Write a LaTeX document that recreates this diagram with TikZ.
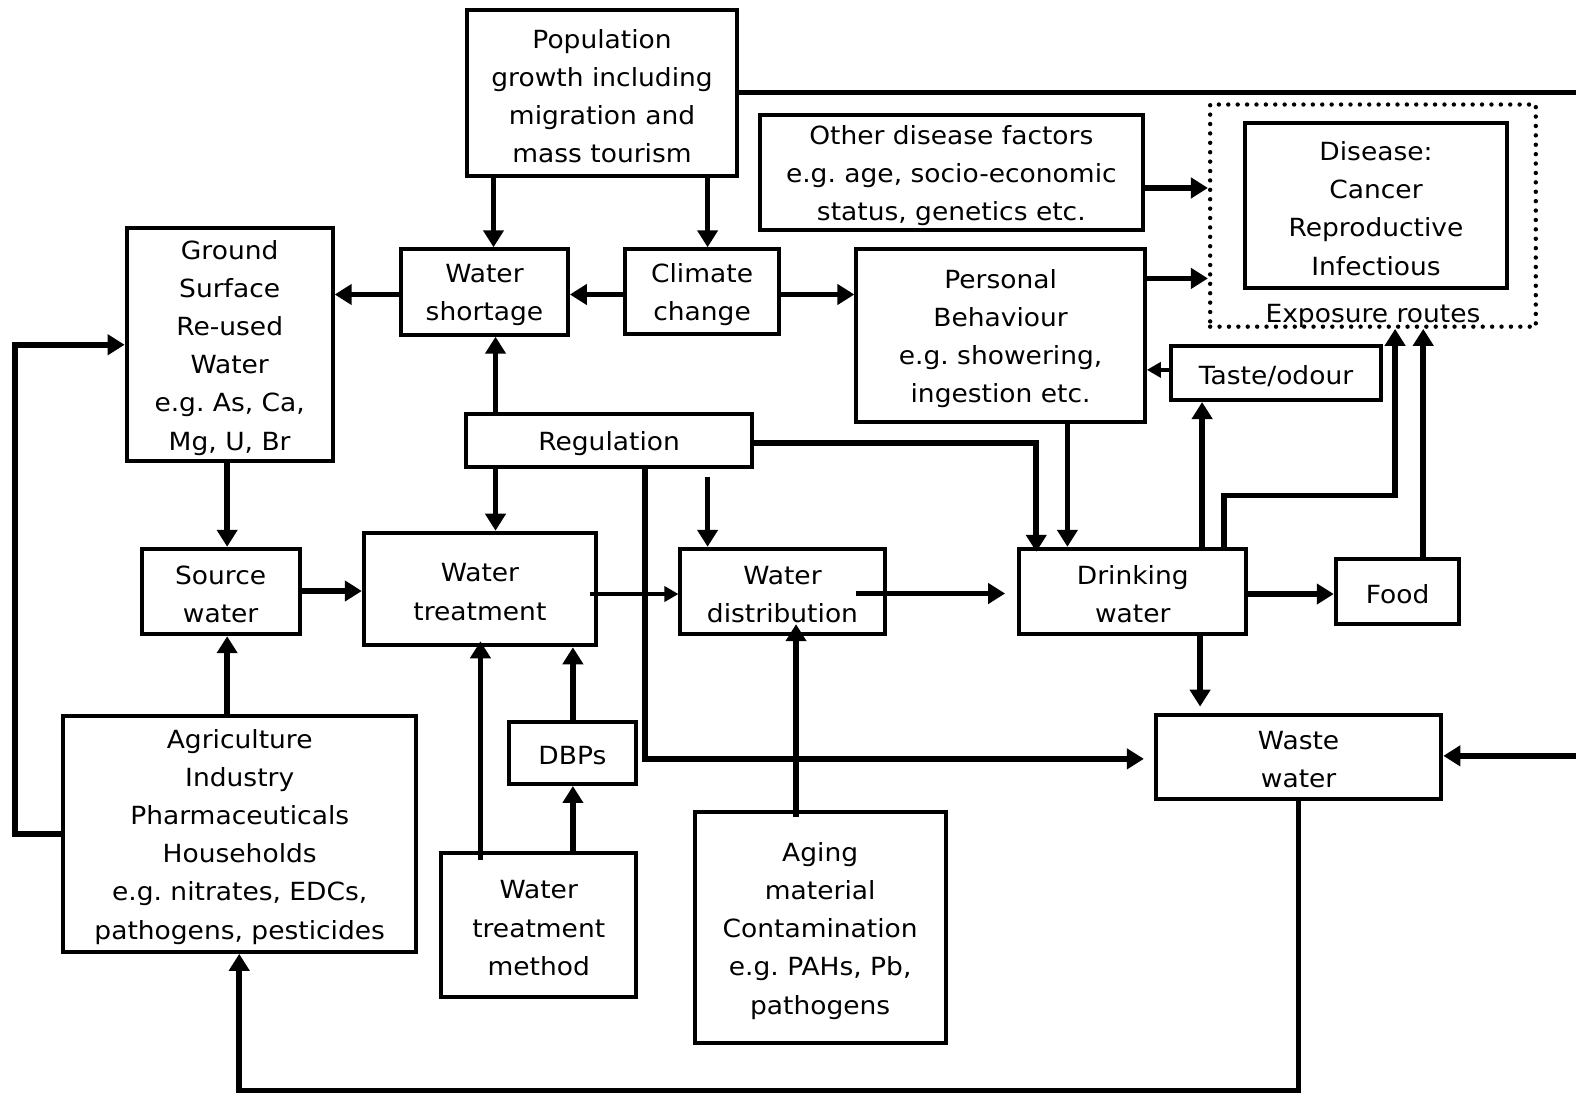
\documentclass[tikz,border=0pt]{standalone}
\usepackage{fontspec}
\setmainfont{DejaVu Sans}[FakeStretch=1.06]
\frenchspacing
\usetikzlibrary{arrows.meta,calc}
% one drawing unit
\def\pxu{0.5026pt}
% \bx{name}{x1}{y1}{x2}{y2}{text}: a framed box spanning the given corners,
% its text set a little below the geometric centre
\newcommand\bx[6]{%
  \node[box,minimum width={(#4-#2)*\pxu},minimum height={(#5-#3)*\pxu}] (#1) at ({(#2+#4)/2},{(#3+#5)/2}) {};
  \node[txt,align=center,inner sep=0pt] (#1-t) at ($(#1.center)+(0,3)$) {#6};}
\begin{document}
\begin{tikzpicture}[x=\pxu,y=-\pxu,
  txt/.style={font=\fontsize{12.5}{19.1}\selectfont},
  box/.style={draw,line width=2pt,inner sep=0pt},
  dotbox/.style={draw,line width=2.2pt,line cap=round,dash pattern=on 0pt off 4.7pt,inner sep=0pt},
  conn/.style={line width=2.8pt,-{Triangle[length=8.5pt,width=10pt]}},
  thinconn/.style={line width=1.7pt,-{Triangle[length=7pt,width=7.5pt]}},
  wire/.style={line width=2.8pt},
]
\useasboundingbox (0,0) rectangle (1568,1088);

% boxes
\bx{pop}{465}{10}{733}{175}{Population\\growth including\\migration and\\mass tourism}
\bx{odf}{756}{114}{1137}{229}{Other disease factors\\e.g. age, socio-economic\\status, genetics etc.}
\node[dotbox,minimum width={324*\pxu},minimum height={221*\pxu}] (expo) at (1366,214.5) {};
\bx{dis}{1239}{122}{1499}{287}{Disease:\\Cancer\\Reproductive\\Infectious}
\node[txt,inner sep=0pt] (exptxt) at (1366,314) {Exposure routes};
\bx{gsw}{126}{227}{331}{459}{Ground\\Surface\\Re-used\\Water\\e.g. As, Ca,\\Mg, U, Br}
\bx{ws}{399}{248}{565}{333}{Water\\shortage}
\bx{cc}{622}{248}{775}{332}{Climate\\change}
\bx{pb}{852}{248}{1139}{420}{Personal\\Behaviour\\e.g. showering,\\ingestion etc.}
\bx{to}{1165}{344}{1374}{398}{Taste/odour}
\bx{reg}{464}{412}{748}{465}{Regulation}
\bx{sw}{141}{546}{298}{631}{Source\\water}
\bx{wt}{362}{530}{593}{642}{Water\\treatment}
\bx{wd}{677}{546}{880}{631}{Water\\distribution}
\bx{dw}{1014}{546}{1240}{631}{Drinking\\water}
\bx{food}{1329}{556}{1452}{621}{Food}
\bx{ww}{1150}{711}{1434}{795}{Waste\\water}
\bx{dbp}{506}{718}{633}{780}{DBPs}
\bx{agr}{63}{712}{414}{947}{Agriculture\\Industry\\Pharmaceuticals\\Households\\e.g. nitrates, EDCs,\\pathogens, pesticides}
\bx{wtm}{439}{849}{633}{992}{Water\\treatment\\method}
\bx{aging}{691}{808}{941}{1038}{Aging\\material\\Contamination\\e.g. PAHs, Pb,\\pathogens}

% free ends at the right margin and below Regulation
\coordinate (rtop) at (1568,92);
\coordinate (rbot) at (1568,752);
\coordinate (regd) at (704,475);

% connectors
\draw[wire] (pop.east |- rtop) -- (rtop);
\draw[conn] (rbot) -- (ww.east |- rbot);
\draw[conn] (pop.south -| 491,0) -- (ws.north -| 491,0);
\draw[conn] (pop.south -| 704,0) -- (cc.north -| 704,0);
\draw[conn] (ws.west |- 0,293) -- (gsw.east |- 0,293);
\draw[conn] (cc.west |- 0,293) -- (ws.east |- 0,293);
\draw[conn] (cc.east |- 0,293) -- (pb.west |- 0,293);
\draw[conn] (odf.east |- 0,187) -- (expo.west |- 0,187);
\draw[conn] (pb.east |- 0,277) -- (expo.west |- 0,277);
\draw[thinconn] (to.west |- 0,368) -- (pb.east |- 0,368);
\draw[conn] (reg.north -| 493,0) -- (ws.south -| 493,0);
\draw[conn] (reg.south -| 493,0) -- (wt.north -| 493,0);
\draw[conn] (regd) -- (wd.north -| regd);
\draw[conn] (reg.east |- 0,441) -| ($(dw.north -| 1031,0)+(0,5)$);
\draw[conn,shorten >=5pt] (reg.south -| 642,0) |- (ww.west |- 0,755);
\draw[conn] (pb.south -| 1062,0) -- (dw.north -| 1062,0);
\draw[conn] (gsw.south -| 226,0) -- (sw.north -| 226,0);
\draw[conn] (sw.east |- 0,588) -- (wt.west |- 0,588);
\draw[thinconn] ($(wt.east)+(-8,5)$) -- (wd.west |- 0,591);
\draw[conn] ($(wd.east)+(-30,2)$) -- ($(dw.west)+(-12,2)$);
\draw[conn] (dw.east |- 0,591) -- (food.west |- 0,591);
\draw[conn] (dw.north -| 1196,0) -- (to.south -| 1196,0);
\draw[conn] (dw.north -| 1218,0) -- (1218,493) -| (expo.south -| 1388,0);
\draw[conn] (food.north -| 1416,0) -- (expo.south -| 1416,0);
\draw[conn,shorten >=3pt] (dw.south -| 1194,0) -- (ww.north -| 1194,0);
\draw[conn] (ww.south -| 1292,0) -- (1292,1085) -| (agr.south -| 238,0);
\draw[conn] (agr.north -| 226,0) -- (sw.south -| 226,0);
\draw[conn] (agr.west |- 0,830) -- (15,830) |- (gsw.west |- 0,343);
\draw[conn] ($(wtm.north -| 478,0)+(0,9)$) -- ($(wt.south -| 478,0)+(0,-6)$);
\draw[conn] (wtm.north -| 570,0) -- (dbp.south -| 570,0);
\draw[conn] (dbp.north -| 570,0) -- (wt.south -| 570,0);
\draw[conn] ($(aging.north -| 792,0)+(0,7)$) -- ($(wd.south -| 792,0)+(0,-12)$);
\end{tikzpicture}
\end{document}
